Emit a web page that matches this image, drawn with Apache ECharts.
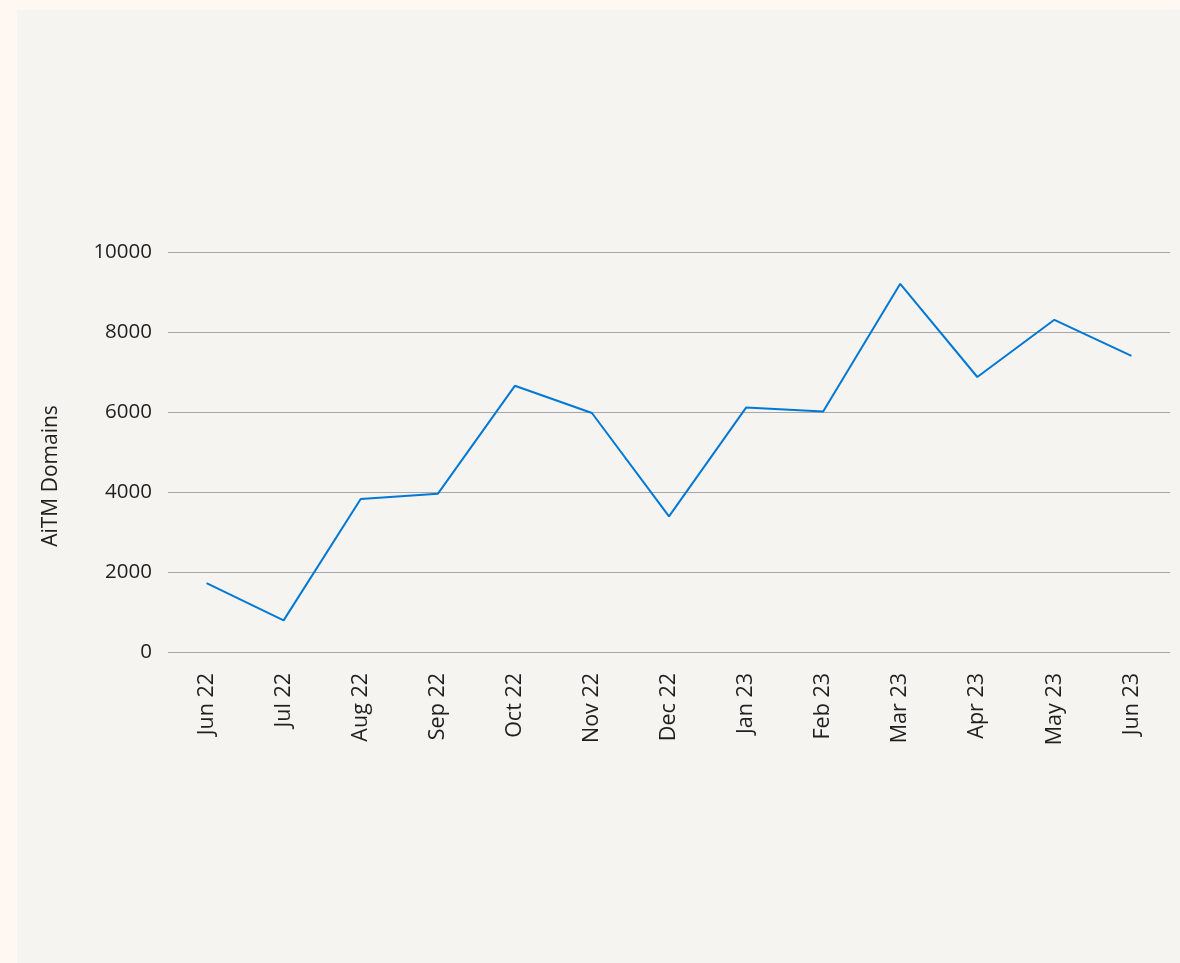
<!DOCTYPE html>
<html>
<head>
<meta charset="utf-8">
<script src="https://cdn.jsdelivr.net/npm/echarts@6/dist/echarts.min.js"></script>
<style>
html,body{margin:0;padding:0;background:#fff8f2;width:1180px;height:963px;overflow:hidden;}
#panel{position:absolute;left:17px;top:10px;width:1163px;height:953px;background:#f5f4f0;}
#chart{position:absolute;left:0;top:0;width:1180px;height:963px;}
</style>
</head>
<body>
<div id="panel"></div>
<div id="chart"></div>
<script>
const categories = ['Jun 22','Jul 22','Aug 22','Sep 22','Oct 22','Nov 22','Dec 22','Jan 23','Feb 23','Mar 23','Apr 23','May 23','Jun 23'];
const domains = [1720, 790, 3825, 3955, 6655, 5975, 3390, 6110, 6010, 9205, 6875, 8305, 7405];
const yTicks = {min: 0, max: 10000, interval: 2000};

const chart = echarts.init(document.getElementById('chart'), null, {renderer: 'canvas'});
chart.setOption({
  backgroundColor: 'transparent',
  animation: false,
  grid: {left: 168, right: 10, top: 252, bottom: 311, containLabel: false},
  xAxis: {
    type: 'category',
    data: categories,
    boundaryGap: true,
    axisLine: {show: false},
    axisTick: {show: false},
    axisLabel: {rotate: 90, margin: 21, color: '#1f1f1f', fontSize: 21.5, fontFamily: 'Open Sans'}
  },
  yAxis: {
    type: 'value',
    min: yTicks.min, max: yTicks.max, interval: yTicks.interval,
    name: 'AiTM Domains',
    nameLocation: 'middle',
    nameGap: 106,
    nameRotate: 90,
    nameTextStyle: {color: '#1f1f1f', fontSize: 21, fontFamily: 'Open Sans', padding: [0, 48, 0, 0]},
    axisLine: {show: false},
    axisTick: {show: false},
    axisLabel: {margin: 16, color: '#1f1f1f', fontSize: 20.5, fontFamily: 'Open Sans', formatter: v => String(v)},
    splitLine: {lineStyle: {color: '#a6a6a6', width: 1}}
  },
  series: [{
    type: 'line',
    data: domains,
    symbol: 'none',
    lineStyle: {color: '#0078d4', width: 2},
    itemStyle: {color: '#0078d4'}
  }]
});
</script>
</body>
</html>
